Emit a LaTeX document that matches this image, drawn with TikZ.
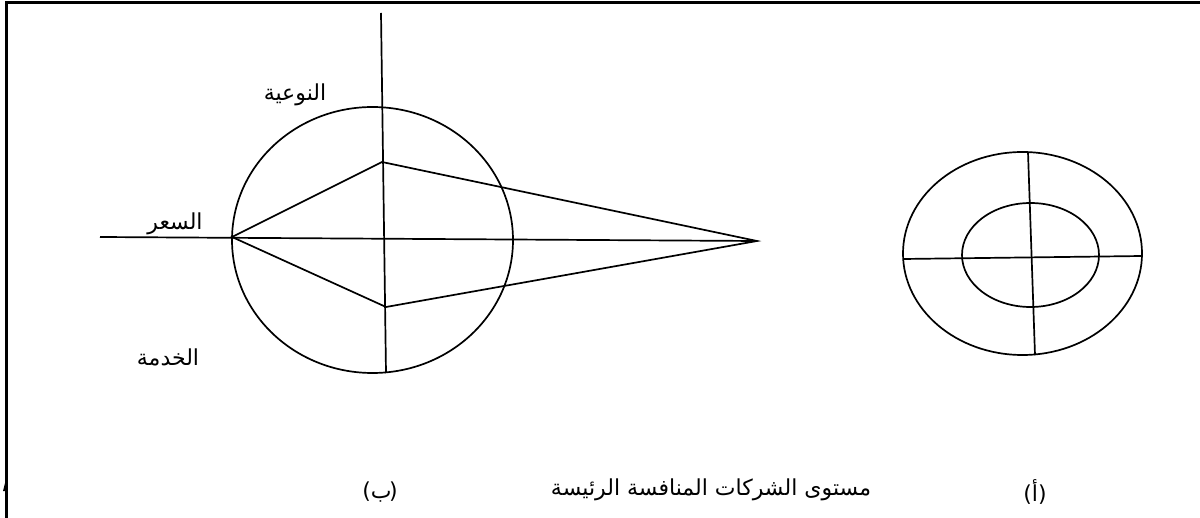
\documentclass[tikz,border=0pt]{standalone}
\usepackage{fontspec}
\newfontfamily\arabicfont[Script=Arabic]{DejaVu Sans}
\newfontfamily\latinfont{DejaVu Sans}
\TeXXeTstate=1
\begin{document}
\begin{tikzpicture}[x=1pt,y=-1pt,line width=1.7pt,
  lbl/.style={font=\arabicfont\fontsize{22}{26}\selectfont, inner sep=0pt},
  frame/.style={line width=2.8pt}]
\useasboundingbox (0,0) rectangle (1200,518);
% frame
\coordinate (fb) at (6.5,518);
\coordinate (ftl) at (6.5,2.6);
\coordinate (ftr) at (1200,2.6);
\draw[frame] (fb) -- (ftl) -- (ftr);
\fill (3,491) -- (5,483) -- (7,483) -- (7,491) -- cycle;
% figure (b)
\coordinate (vtop) at (381,13);
\coordinate (vbot) at (386,373);
\coordinate (hleft) at (100,237);
\coordinate (apex) at (757,241);
\coordinate (L) at (232,237);
\coordinate (U) at (382,162);
\coordinate (D) at (386,307);
\draw (372.5,240) ellipse [x radius=140.5pt, y radius=133pt];
\draw (vtop) -- (vbot);
\draw (hleft) -- (apex);
\draw (L) -- (U) -- (apex) -- (D) -- cycle;
% figure (a)
\draw (1022.5,253.5) ellipse [x radius=119.5pt, y radius=101.5pt];
\draw (1030.5,255) ellipse [x radius=68.5pt, y radius=52pt];
\coordinate (aL) at (903,259);
\coordinate (aR) at (1142,256);
\coordinate (aT) at (1028,152);
\coordinate (aB) at (1035,355);
\draw (aL) -- (aR);
\draw (aT) -- (aB);
% labels
\node[lbl] (quality) at (295,95) {\beginR النوعية\endR};
\node[lbl] (price) at (175,224) {\beginR السعر\endR};
\node[lbl] (service) at (168,357) {\beginR الخدمة\endR};
\node[lbl] (capb) at (380,492) {{\latinfont(}\beginR ب\endR\kern-2.5pt{\latinfont)}};
\node[lbl] (title) at (711,490) {\beginR مستوى الشركات المنافسة الرئيسة\endR};
\node[lbl] (capa) at (1035,492) {{\latinfont(}\beginR أ\endR{\latinfont)}};
\end{tikzpicture}
\end{document}
